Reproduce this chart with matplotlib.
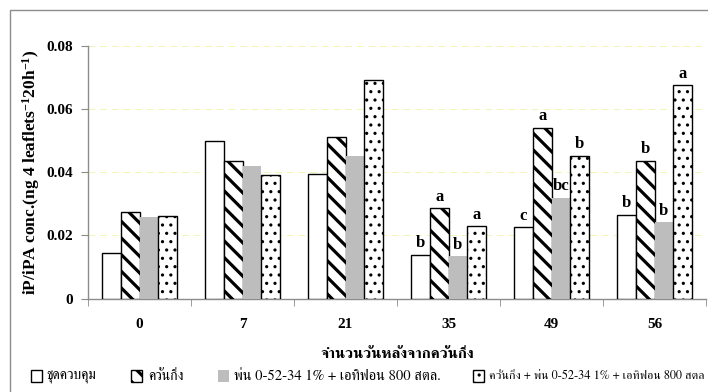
import numpy as np
import matplotlib
matplotlib.use("Agg")
import matplotlib.pyplot as plt
from matplotlib.patches import Rectangle

# Days after girdling
days = ["0", "7", "21", "35", "49", "56"]

# iP/iPA concentration per treatment
control = [0.0145, 0.0500, 0.0396, 0.0138, 0.0225, 0.0265]
girdled = [0.0273, 0.0436, 0.0511, 0.0286, 0.0541, 0.0436]
spray = [0.0258, 0.0420, 0.0451, 0.0134, 0.0319, 0.0242]
girdled_spray = [0.0260, 0.0392, 0.0692, 0.0229, 0.0453, 0.0675]

# Significance letters (empty where no test was reported)
letters_control = ["", "", "", "b", "c", "b"]
letters_girdled = ["", "", "", "a", "a", "b"]
letters_spray = ["", "", "", "b", "bc", "b"]
letters_girdled_spray = ["", "", "", "a", "b", "a"]

legend_labels = [
    "ชุดควบคุม",
    "ควั่นกิ่ง",
    "พ่น 0-52-34 1% + เอทิฟอน 800 สตล.",
    "ควั่นกิ่ง + พ่น 0-52-34 1% + เอทิฟอน 800 สตล",
]

plt.rcParams["mathtext.fontset"] = "custom"
plt.rcParams["mathtext.rm"] = "Liberation Serif:bold"
plt.rcParams["mathtext.it"] = "Liberation Serif:bold"
plt.rcParams["mathtext.bf"] = "Liberation Serif:bold"

SERIF = ["Liberation Serif", "FreeSerif", "DejaVu Serif"]
THAI = ["FreeSerif", "Liberation Serif", "DejaVu Serif"]

STRIPES = "\\\\"
DOTS = ".."
GRAY = "#bdbdbd"
FRAME = "#8c8c8c"


def set_hatch_width(artist, lw):
    if hasattr(artist, "set_hatch_linewidth"):
        artist.set_hatch_linewidth(lw)


fig = plt.figure(figsize=(7.08, 3.92), dpi=100)
W, H = 708, 392

def px(xp):
    return xp / W

def py(yp):
    return 1 - yp / H

# outer chart frame
fig.patches.append(Rectangle((px(10), -0.2), 1.2, py(10) + 0.2,
                             transform=fig.transFigure, fill=False,
                             edgecolor=FRAME, linewidth=1.0, zorder=0))

ax = fig.add_axes([px(88), py(298.5), px(706) - px(88), py(46) - py(298.5)])
ax.set_facecolor("none")

x = np.arange(len(days))
w = 0.181
series = [
    (control, dict(facecolor="white", edgecolor="black"), None, letters_control),
    (girdled, dict(facecolor="white", edgecolor="black"), STRIPES, letters_girdled),
    (spray, dict(facecolor=GRAY, edgecolor="none"), None, letters_spray),
    (girdled_spray, dict(facecolor="white", edgecolor="black"), DOTS, letters_girdled_spray),
]
for i, (vals, style, hatch, labs) in enumerate(series):
    pos = x + (i - 1.5) * w
    lw_h = 2.3 if hatch == STRIPES else 1.1
    with plt.rc_context({"hatch.linewidth": lw_h}):
        bars = ax.bar(pos, vals, width=w, linewidth=1.0, zorder=3, hatch=hatch, **style)
    for b in bars:
        set_hatch_width(b, lw_h)
    for xp, v, lab in zip(pos, vals, labs):
        if lab:
            ax.annotate(lab, (xp, v), xytext=(0, 2.5), textcoords="offset points",
                        ha="center", va="bottom", fontsize=12, fontweight="bold",
                        family=SERIF, zorder=4)

ax.set_xlim(-0.5, len(days) - 0.5)
ax.set_ylim(0, 0.08)
ax.set_yticks([0, 0.02, 0.04, 0.06, 0.08])
ax.set_yticklabels(["0", "0.02", "0.04", "0.06", "0.08"])
ax.yaxis.grid(True, color="#f4f4b4", linestyle=(0, (7, 5)), linewidth=0.7, zorder=0)
ax.set_xticks(x)
ax.set_xticklabels(days)
ax.set_xticks(np.arange(-0.5, len(days), 1.0), minor=True)
ax.tick_params(axis="x", which="major", length=0, pad=14)
ax.tick_params(axis="x", which="minor", length=5, color=FRAME, direction="out")
ax.tick_params(axis="y", length=5, color=FRAME, direction="out", pad=6)
for lab in ax.get_xticklabels() + ax.get_yticklabels():
    lab.set_fontfamily(SERIF)
    lab.set_fontweight("bold")
    lab.set_fontsize(11)

for side in ("top", "right"):
    ax.spines[side].set_visible(False)
for side in ("left", "bottom"):
    ax.spines[side].set_color(FRAME)
    ax.spines[side].set_linewidth(1.0)

ax.set_ylabel(r"iP/iPA conc.(ng 4 leaflets$^{-1}$20h$^{-1}$)", fontsize=12.5,
              fontweight="bold", family=SERIF)
ax.yaxis.set_label_coords(-0.0744, 0.5)
ax.set_xlabel("จำนวนวันหลังจากควั่นกิ่ง", fontsize=11, fontweight="bold",
              family=THAI, labelpad=12)

# legend row drawn in pixel positions
box_x = [31, 131, 218, 473]
text_x = [46, 148, 234, 489]
text_size = [10, 10, 10.5, 9.5]
fills = [("white", "black", None), ("white", "black", STRIPES),
         (GRAY, "none", None), ("white", "black", DOTS)]
row_y = 376
legend_texts = []
for bx, tx, size, (fc, ec, hatch), label in zip(box_x, text_x, text_size, fills, legend_labels):
    lw_h = 2.3 if hatch == STRIPES else 1.1
    with plt.rc_context({"hatch.linewidth": lw_h}):
        r = Rectangle((px(bx), py(row_y + 6)), px(bx + 11) - px(bx), py(row_y - 6) - py(row_y + 6),
                      transform=fig.transFigure, facecolor=fc, edgecolor=ec,
                      hatch=hatch, linewidth=1.0)
    set_hatch_width(r, lw_h)
    fig.patches.append(r)
    t = fig.text(px(tx), py(row_y), label, ha="left", va="center",
                 fontsize=size, family=THAI)
    legend_texts.append(t)

# keep the longest entries inside the frame
fig.canvas.draw()
renderer = fig.canvas.get_renderer()
limits = [box_x[1] - 10, box_x[2] - 10, box_x[3] - 8, 705]
for t, lim in zip(legend_texts, limits):
    bb = t.get_window_extent(renderer)
    if bb.x1 > lim:
        t.set_fontsize(t.get_fontsize() * (lim - bb.x0) / bb.width)

fig.savefig("out.png", dpi=100)
